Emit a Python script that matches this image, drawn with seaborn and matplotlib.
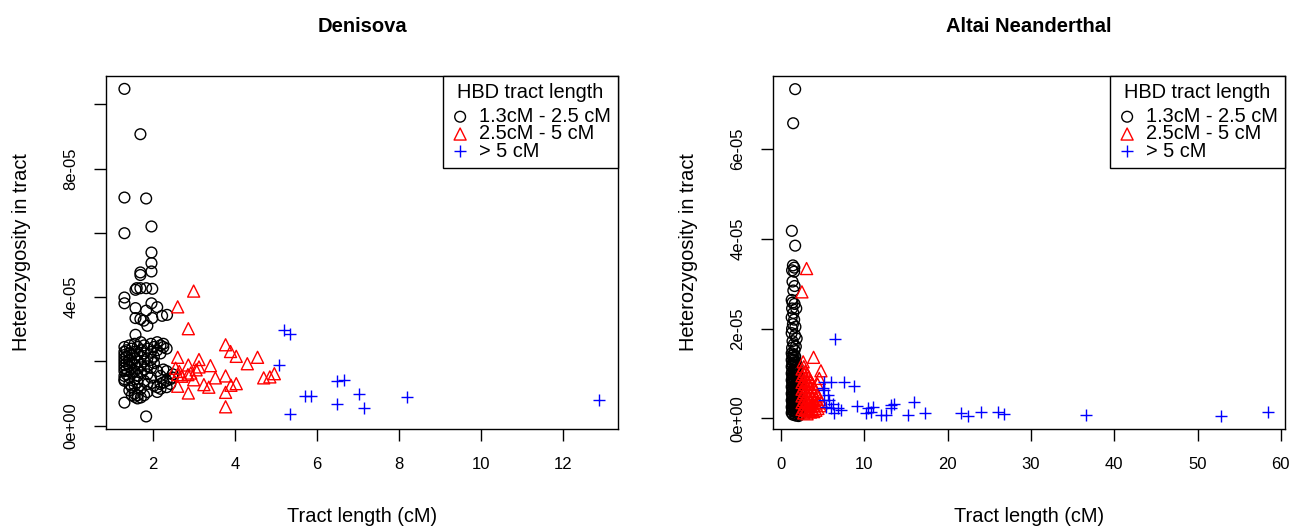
import numpy as np
import pandas as pd
import matplotlib
matplotlib.use("Agg")
import matplotlib.pyplot as plt
import seaborn as sns

# ---------------- data (x = tract length in cM, y = heterozygosity in units of 1e-5) -------------
LABELS = ["1.3cM - 2.5 cM", "2.5cM - 5 cM", "> 5 cM"]

den_short = [
    (1.30, 10.48), (1.69, 9.07), (1.30, 7.10), (1.83, 7.07), (1.96, 6.20), (1.30, 5.99),
    (1.96, 5.39), (1.96, 5.06), (1.96, 4.80), (1.69, 4.77), (1.69, 4.69), (1.57, 4.23),
    (1.60, 4.28), (1.69, 4.28), (1.83, 4.28), (1.98, 4.26), (1.30, 3.99), (1.30, 3.81),
    (1.96, 3.81), (2.10, 3.69), (1.57, 3.66), (1.83, 3.58), (2.22, 3.42), (2.34, 3.45),
    (1.57, 3.35), (1.69, 3.32), (1.77, 3.27), (1.86, 3.11), (1.98, 3.35), (1.57, 2.83),
    (1.30, 0.72), (1.83, 0.29),
    (1.30, 2.45), (1.30, 2.30), (1.30, 2.20), (1.30, 2.10), (1.30, 2.00), (1.30, 1.90),
    (1.30, 1.80), (1.30, 1.70), (1.30, 1.55), (1.30, 1.45), (1.30, 1.40),
    (1.35, 2.35), (1.35, 2.15), (1.35, 1.95), (1.35, 1.75), (1.35, 1.60),
    (1.42, 2.50), (1.42, 2.25), (1.42, 2.05), (1.42, 1.85), (1.42, 1.50), (1.42, 1.30), (1.42, 1.10),
    (1.48, 2.40), (1.48, 2.20), (1.48, 1.95), (1.48, 1.65), (1.48, 1.20), (1.48, 0.95),
    (1.55, 2.55), (1.55, 2.30), (1.55, 2.10), (1.55, 1.90), (1.55, 1.70), (1.55, 1.45),
    (1.55, 1.25), (1.55, 1.00), (1.55, 0.90),
    (1.62, 2.45), (1.62, 2.20), (1.62, 2.00), (1.62, 1.80), (1.62, 1.55), (1.62, 1.35),
    (1.62, 0.95), (1.62, 0.85),
    (1.70, 2.60), (1.70, 2.35), (1.70, 2.15), (1.70, 1.90), (1.70, 1.65), (1.70, 1.15), (1.70, 0.88),
    (1.78, 2.50), (1.78, 2.25), (1.78, 2.00), (1.78, 1.75), (1.78, 1.40), (1.78, 0.95),
    (1.86, 2.40), (1.86, 2.10), (1.86, 1.85), (1.86, 1.60), (1.86, 1.30), (1.86, 1.05),
    (1.95, 2.55), (1.95, 2.30), (1.95, 2.05), (1.95, 1.80), (1.95, 1.50),
    (2.02, 2.45), (2.02, 2.15), (2.02, 1.95), (2.02, 1.25),
    (2.10, 2.60), (2.10, 2.35), (2.10, 1.70), (2.10, 1.20), (2.10, 1.05),
    (2.18, 2.50), (2.18, 2.25), (2.18, 1.55), (2.18, 1.30), (2.18, 1.15),
    (2.25, 2.55), (2.25, 2.45), (2.25, 1.75), (2.25, 1.35),
    (2.33, 2.40), (2.33, 1.70), (2.33, 1.40), (2.33, 1.20),
    (2.42, 1.45), (2.42, 1.30), (2.48, 1.60), (2.48, 1.50),
]

den_mid = [
    (2.99, 4.19), (2.60, 3.70), (2.86, 3.02), (3.77, 2.52), (3.89, 2.31), (4.03, 2.16),
    (4.55, 2.13), (4.30, 1.93), (2.60, 2.13), (3.12, 2.06), (3.40, 1.87), (2.86, 1.89),
    (3.12, 1.83), (2.64, 1.69), (2.60, 1.59), (2.85, 1.59), (2.99, 1.43), (3.52, 1.49),
    (3.77, 1.55), (4.03, 1.31), (3.90, 1.26), (4.70, 1.49), (4.85, 1.52), (4.96, 1.62),
    (2.60, 1.23), (3.24, 1.28), (3.36, 1.20), (2.86, 1.02), (3.77, 1.04), (3.77, 0.59),
    (2.55, 1.79), (2.70, 1.54), (2.92, 1.64), (3.05, 1.74),
]

den_long = [
    (5.19, 2.97), (5.35, 2.84), (5.07, 1.88), (6.50, 1.38), (6.65, 1.43), (5.72, 0.93),
    (5.86, 0.93), (7.02, 0.99), (6.50, 0.68), (7.16, 0.54), (5.33, 0.36), (8.20, 0.91),
    (12.88, 0.81),
]

alt_short = [
    (1.72, 7.34), (1.48, 6.58), (1.32, 4.18), (1.72, 3.85), (1.45, 3.41), (1.62, 3.36),
    (1.35, 3.30), (1.60, 3.27), (1.40, 3.05), (1.65, 2.95), (1.50, 2.85),
    (1.30, 2.64), (1.40, 2.58), (1.65, 2.55), (1.35, 2.45), (1.85, 2.45), (1.50, 2.35),
    (1.30, 2.25), (1.60, 2.20), (1.45, 2.10), (1.75, 2.04), (1.35, 2.00),
    (1.30, 1.90), (1.70, 1.85), (1.90, 1.78), (1.40, 1.72), (1.55, 1.65), (1.80, 1.60),
    (1.35, 1.57), (1.65, 1.52),
    (1.30, 1.45), (1.30, 1.30), (1.30, 1.15), (1.30, 1.00), (1.30, 0.85), (1.30, 0.70),
    (1.30, 0.55), (1.30, 0.40), (1.30, 0.25), (1.30, 0.12),
    (1.38, 1.40), (1.38, 1.22), (1.38, 1.05), (1.38, 0.92), (1.38, 0.78), (1.38, 0.62),
    (1.38, 0.48), (1.38, 0.33), (1.38, 0.18),
    (1.46, 1.35), (1.46, 1.18), (1.46, 0.98), (1.46, 0.82), (1.46, 0.66), (1.46, 0.50),
    (1.46, 0.36), (1.46, 0.22), (1.46, 0.08),
    (1.55, 1.42), (1.55, 1.25), (1.55, 1.08), (1.55, 0.90), (1.55, 0.72), (1.55, 0.58),
    (1.55, 0.42), (1.55, 0.28), (1.55, 0.15),
    (1.63, 1.30), (1.63, 1.12), (1.63, 0.95), (1.63, 0.80), (1.63, 0.64), (1.63, 0.46),
    (1.63, 0.30), (1.63, 0.10),
    (1.72, 1.38), (1.72, 1.20), (1.72, 1.02), (1.72, 0.86), (1.72, 0.70), (1.72, 0.52),
    (1.72, 0.38), (1.72, 0.20),
    (1.80, 1.25), (1.80, 1.06), (1.80, 0.90), (1.80, 0.74), (1.80, 0.56), (1.80, 0.40),
    (1.80, 0.24), (1.80, 0.06),
    (1.90, 1.15), (1.90, 0.96), (1.90, 0.78), (1.90, 0.60), (1.90, 0.44), (1.90, 0.26), (1.90, 0.12),
    (2.00, 1.05), (2.00, 0.84), (2.00, 0.66), (2.00, 0.48), (2.00, 0.30), (2.00, 0.16),
    (2.12, 0.92), (2.12, 0.70), (2.12, 0.50), (2.12, 0.34), (2.12, 0.18), (2.12, 0.05),
    (2.25, 0.80), (2.25, 0.58), (2.25, 0.38), (2.25, 0.22), (2.25, 0.08),
    (2.40, 0.62), (2.40, 0.42), (2.40, 0.25), (2.40, 0.10),
]

alt_mid = [
    (3.09, 3.34), (2.53, 2.82), (3.93, 1.36), (2.68, 1.26), (4.81, 1.06), (4.61, 0.89), (4.41, 0.76),
    (2.55, 1.10), (2.55, 0.95), (2.55, 0.80), (2.55, 0.65), (2.55, 0.50), (2.55, 0.35), (2.55, 0.20),
    (2.75, 1.15), (2.75, 1.00), (2.75, 0.85), (2.75, 0.70), (2.75, 0.55), (2.75, 0.40),
    (2.75, 0.25), (2.75, 0.12),
    (2.95, 1.05), (2.95, 0.90), (2.95, 0.75), (2.95, 0.60), (2.95, 0.45), (2.95, 0.30), (2.95, 0.18),
    (3.15, 0.98), (3.15, 0.82), (3.15, 0.68), (3.15, 0.52), (3.15, 0.38), (3.15, 0.22), (3.15, 0.10),
    (3.35, 0.92), (3.35, 0.76), (3.35, 0.60), (3.35, 0.46), (3.35, 0.32), (3.35, 0.16),
    (3.55, 0.85), (3.55, 0.70), (3.55, 0.55), (3.55, 0.40), (3.55, 0.26), (3.55, 0.14),
    (3.75, 0.78), (3.75, 0.62), (3.75, 0.48), (3.75, 0.34), (3.75, 0.20),
    (3.95, 0.70), (3.95, 0.55), (3.95, 0.40), (3.95, 0.28), (3.95, 0.15),
    (4.20, 0.60), (4.20, 0.45), (4.20, 0.32), (4.20, 0.18),
    (4.45, 0.50), (4.45, 0.36), (4.45, 0.22),
    (4.70, 0.42), (4.70, 0.28), (4.90, 0.35),
]

alt_long = [
    (6.53, 1.77), (5.21, 0.80), (6.02, 0.80), (7.62, 0.80), (8.82, 0.72),
    (5.10, 0.67), (5.21, 0.63), (5.62, 0.52), (5.21, 0.41), (5.81, 0.41), (6.22, 0.33),
    (5.42, 0.26), (6.02, 0.22), (6.82, 0.22), (6.42, 0.11), (7.22, 0.19),
    (9.15, 0.27), (10.4, 0.22), (11.0, 0.26), (10.8, 0.15), (10.2, 0.11), (12.0, 0.07),
    (12.6, 0.07), (13.2, 0.22), (13.6, 0.33), (13.2, 0.30), (16.0, 0.37), (15.2, 0.07),
    (17.3, 0.11), (21.6, 0.12), (22.5, 0.05), (24.0, 0.15), (26.0, 0.15), (26.8, 0.10),
    (36.6, 0.07), (52.8, 0.05), (58.5, 0.14),
]

den_xticks = [2, 4, 6, 8, 10, 12]
den_yticks = [0, 2e-5, 4e-5, 6e-5, 8e-5, 10e-5]
den_yticklabels = ["0e+00", "", "4e-05", "", "8e-05", ""]
alt_xticks = [0, 10, 20, 30, 40, 50, 60]
alt_yticks = [0, 2e-5, 4e-5, 6e-5]
alt_yticklabels = ["0e+00", "2e-05", "4e-05", "6e-05"]

# ---------------- figure ----------------
sns.set_style("ticks")
plt.rcParams["font.family"] = ["Liberation Sans", "DejaVu Sans"]
plt.rcParams.update({"text.color": "black", "axes.labelcolor": "black",
                     "xtick.color": "black", "ytick.color": "black",
                     "axes.edgecolor": "black"})

fig = plt.figure(figsize=(12.9, 5.29), dpi=100)
ax1 = fig.add_axes([106 / 1290, (529 - 429.3) / 529, 512 / 1290, 353.6 / 529])
ax2 = fig.add_axes([773 / 1290, (529 - 429.3) / 529, 512 / 1290, 353.6 / 529])

STYLES = [("black", "o", 60), ("red", "^", 75), ("blue", "+", 85)]


def panel(ax, groups, title, xlim, ylim, xticks, yticks, yticklabels):
    for pts, label, (col, mk, s) in zip(groups, LABELS, STYLES):
        df = pd.DataFrame(pts, columns=["length", "het"])
        df["het"] = df["het"] * 1e-5
        kw = dict(facecolors="none", edgecolor=col) if mk != "+" else dict()
        sns.scatterplot(data=df, x="length", y="het", ax=ax, marker=mk, s=s,
                        color=col, linewidth=1.0, label=label, legend=False, **kw)
    ax.set_xlim(*xlim)
    ax.set_ylim(*ylim)
    ax.set_xticks(xticks)
    ax.set_xticklabels([str(t) for t in xticks])
    ax.set_yticks(yticks)
    ax.set_yticklabels(yticklabels)
    for lab in ax.get_yticklabels():
        lab.set_rotation(90)
        lab.set_va("center")
    ax.tick_params(axis="both", direction="out", length=8.5, width=1.0, color="black",
                   labelsize=12, pad=11.5, labelcolor="black")
    for sp in ax.spines.values():
        sp.set_visible(True)
        sp.set_color("black")
        sp.set_linewidth(1.0)
    ax.set_xlabel("Tract length (cM)", fontsize=14.4, color="black")
    ax.set_ylabel("Heterozygosity in tract", fontsize=14.4, color="black")
    ax.xaxis.set_label_coords(0.5, -0.248)
    ax.xaxis.label.set_va("center")
    ax.yaxis.set_label_coords(-0.166, 0.5)
    ax.yaxis.label.set_va("center")
    ax.set_title(title, fontsize=14.5, fontweight="bold", y=1.138, va="center", pad=0,
                 color="black")
    leg = ax.legend(title="HBD tract length", loc="upper right", bbox_to_anchor=(1, 1),
                    borderaxespad=0, fontsize=14.4, title_fontsize=14.4, frameon=True,
                    fancybox=False, framealpha=1, edgecolor="black", borderpad=0.35,
                    handlelength=1.0, handletextpad=0.45, labelspacing=-0.085)
    leg.get_frame().set_linewidth(1.0)
    leg._legend_box.sep = 3.8
    for t in leg.get_texts():
        t.set_color("black")
    leg.get_title().set_color("black")


panel(ax1, [den_short, den_mid, den_long], "Denisova", (0.85, 13.35), (-0.11e-5, 10.89e-5),
      den_xticks, den_yticks, den_yticklabels)
panel(ax2, [alt_short, alt_mid, alt_long], "Altai Neanderthal", (-0.94, 60.5), (-0.245e-5, 7.64e-5),
      alt_xticks, alt_yticks, alt_yticklabels)

fig.savefig("out.png", dpi=100, facecolor="white")
